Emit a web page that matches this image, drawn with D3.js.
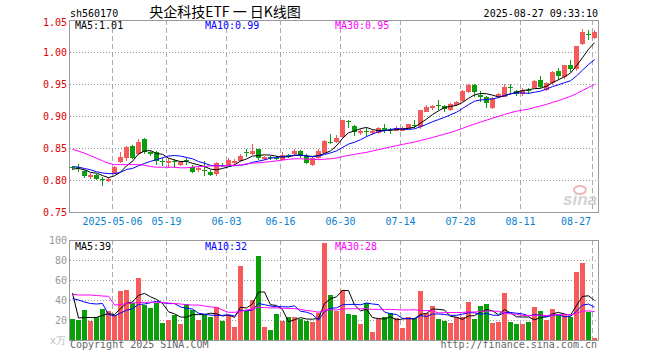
<!DOCTYPE html>
<html>
<head>
<meta charset="utf-8">
<script src="https://cdn.jsdelivr.net/npm/d3@7"></script>
<style>
  body { margin: 0; background: #fff; }
  text { font-family: "DejaVu Sans Mono", monospace; font-size: 10px; }
</style>
</head>
<body>
<svg id="my_svg"></svg>
<script>
const width = 660;
const height = 360;

// trading days 2025-04-22 .. 2025-08-27
const days = [
  '04-22','04-23','04-24','04-25','04-28','04-29','04-30',
  '05-06','05-07','05-08','05-09','05-12','05-13','05-14','05-15','05-16','05-19','05-20','05-21','05-22','05-23','05-26','05-27','05-28','05-29','05-30',
  '06-03','06-04','06-05','06-06','06-09','06-10','06-11','06-12','06-13','06-16','06-17','06-18','06-19','06-20','06-23','06-24','06-25','06-26','06-27','06-30',
  '07-01','07-02','07-03','07-04','07-07','07-08','07-09','07-10','07-11','07-14','07-15','07-16','07-17','07-18','07-21','07-22','07-23','07-24','07-25','07-28','07-29','07-30','07-31',
  '08-01','08-04','08-05','08-06','08-07','08-08','08-11','08-12','08-13','08-14','08-15','08-18','08-19','08-20','08-21','08-22','08-25','08-26','08-27'
];

const open = [
  0.820,0.820,0.814,0.805,0.808,0.802,0.799,0.810,0.828,0.834,
  0.853,0.841,0.864,0.844,0.843,0.830,0.827,0.829,0.824,0.832,
  0.821,0.815,0.816,0.813,0.809,0.824,0.823,0.826,0.829,0.843,
  0.841,0.848,0.833,0.836,0.835,0.832,0.839,0.840,0.846,0.838,
  0.824,0.835,0.842,0.860,0.860,0.867,0.892,0.885,0.874,0.877,
  0.873,0.873,0.882,0.879,0.877,0.877,0.880,0.886,0.883,0.907,
  0.912,0.917,0.915,0.909,0.917,0.923,0.938,0.948,0.933,0.930,
  0.913,0.929,0.930,0.945,0.939,0.935,0.941,0.944,0.957,0.941,
  0.951,0.970,0.961,0.980,0.973,1.013,1.028,1.022
];
const high = [
  0.822,0.825,0.816,0.811,0.810,0.804,0.804,0.822,0.843,0.853,
  0.854,0.864,0.865,0.846,0.845,0.835,0.835,0.833,0.830,0.835,
  0.823,0.820,0.830,0.815,0.828,0.826,0.835,0.833,0.840,0.848,
  0.856,0.849,0.838,0.838,0.837,0.843,0.840,0.849,0.847,0.840,
  0.837,0.848,0.862,0.872,0.871,0.894,0.893,0.886,0.879,0.881,
  0.878,0.883,0.887,0.882,0.885,0.884,0.888,0.893,0.910,0.917,
  0.917,0.925,0.917,0.920,0.924,0.940,0.950,0.950,0.939,0.932,
  0.930,0.936,0.950,0.950,0.941,0.943,0.944,0.957,0.962,0.953,
  0.970,0.975,0.980,0.987,1.010,1.036,1.034,1.034
];
const low = [
  0.816,0.813,0.803,0.802,0.800,0.790,0.797,0.809,0.827,0.830,
  0.833,0.839,0.840,0.838,0.823,0.822,0.818,0.818,0.822,0.823,
  0.811,0.813,0.807,0.806,0.807,0.821,0.822,0.824,0.828,0.836,
  0.839,0.832,0.831,0.832,0.831,0.831,0.834,0.838,0.834,0.825,
  0.822,0.833,0.840,0.856,0.858,0.866,0.882,0.868,0.871,0.867,
  0.871,0.872,0.873,0.872,0.876,0.876,0.879,0.881,0.880,0.906,
  0.909,0.909,0.906,0.908,0.916,0.922,0.936,0.930,0.922,0.912,
  0.911,0.928,0.929,0.936,0.932,0.932,0.935,0.943,0.943,0.939,
  0.949,0.957,0.958,0.969,0.971,1.011,1.018,1.021
];
const close = [
  0.818,0.819,0.806,0.808,0.802,0.800,0.802,0.821,0.836,0.852,
  0.835,0.860,0.843,0.840,0.829,0.829,0.830,0.828,0.828,0.831,
  0.813,0.818,0.815,0.808,0.826,0.823,0.831,0.830,0.838,0.842,
  0.846,0.835,0.836,0.835,0.834,0.839,0.838,0.846,0.838,0.827,
  0.835,0.846,0.861,0.859,0.866,0.893,0.890,0.875,0.877,0.876,
  0.876,0.882,0.876,0.878,0.882,0.881,0.887,0.885,0.909,0.914,
  0.916,0.916,0.911,0.918,0.922,0.939,0.948,0.938,0.929,0.920,
  0.928,0.934,0.946,0.944,0.934,0.941,0.940,0.955,0.946,0.951,
  0.969,0.962,0.979,0.974,1.009,1.032,1.027,1.031
];
// volume, 万手
const volume = [
  21,20,30,19,23,31,29,25,49,50,
  37,62,35,32,37,17,20,25,16,36,
  30,20,25,23,33,19,25,13,74,29,
  40,84,13,10,26,19,23,23,21,19,
  18,27,97,45,29,50,26,25,16,37,
  8,21,23,27,22,12,23,22,49,27,
  34,21,19,17,23,23,38,21,34,36,
  17,18,47,18,16,16,18,33,29,20,
  31,25,25,23,68,77,28,2
];

// moving-average values before a full window exists
const ma5Lead = [0.817,0.818,0.816,0.812];
const ma10Lead = [0.821,0.820,0.818,0.816,0.813,0.811,0.810,0.810,0.812];
const ma30Lead = [0.848,0.845,0.842,0.838,0.834,0.830,0.826,0.824,0.824,0.824,
                  0.824,0.824,0.823,0.821,0.820,0.820,0.820,0.820,0.819,0.819,
                  0.820,0.821,0.821,0.822,0.822,0.822,0.823,0.823,0.823];
const vma5Lead = [47,22,22.5,22.5];
const vma10Lead = [41.5,40,38,36.5,36,36.5,25.5,24,27];
const vma30Lead = [45.7,45,45,45,44.5,44,43.7,35,35.5,36.3,
                   37,37.5,37.7,37.7,37.7,37.5,37,36.5,36,35.3,
                   35,35,34,33,32.7,30,27.7,27.7,28.5];

const priceTicks = [1.05, 1.00, 0.95, 0.90, 0.85, 0.80, 0.75];
const volTicks = [100, 80, 60, 40, 20];
const tickDays = ['05-06','05-19','06-03','06-16','06-30','07-14','07-28','08-11','08-27'];
const tickLabels = ['2025-05-06','05-19','06-03','06-16','06-30','07-14','07-28','08-11','08-27'];
const maLabels = ['MA5:1.01','MA10:0.99','MA30:0.95'];
const vmaLabels = ['MA5:39','MA10:32','MA30:28'];
const maColors = ['#000', '#0000ff', '#ff00ff'];

const upColor = '#f65a5a';
const downColor = '#0a9e0a';

const svg = d3.select('#my_svg')
    .attr('width', width)
    .attr('height', height);

const x = d3.scaleBand()
    .domain(days)
    .range([69.5, 597.5])
    .paddingInner(1 / 6)
    .paddingOuter(1 / 12);
const cx = d => Math.floor(x(d)) + 2.5;

const y = d3.scaleLinear().domain([0.75, 1.05]).range([212, 20]);
const vy = d3.scaleLinear().domain([0, 100]).range([340, 240]);

function movingAvg(values, n, lead) {
    return values.map((v, i) => {
        if (i < n - 1) return lead[i];
        return d3.mean(values.slice(i - n + 1, i + 1));
    });
}

const rows = days.map((d, i) => ({
    day: d, o: open[i], h: high[i], l: low[i], c: close[i], v: volume[i]
}));

// ---------- grid ----------
const grid = svg.append('g').attr('id', 'grid_g');

grid.selectAll('.hgrid')
    .data(priceTicks.slice(1, -1))
    .enter().append('line')
    .attr('x1', 70).attr('x2', 598)
    .attr('y1', d => Math.round(y(d)) + 0.5)
    .attr('y2', d => Math.round(y(d)) + 0.5)
    .attr('stroke', '#999')
    .attr('stroke-dasharray', '1,2');

grid.selectAll('.vhgrid')
    .data(volTicks.slice(1))
    .enter().append('line')
    .attr('x1', 70).attr('x2', 598)
    .attr('y1', d => Math.round(vy(d)) + 0.5)
    .attr('y2', d => Math.round(vy(d)) + 0.5)
    .attr('stroke', '#999')
    .attr('stroke-dasharray', '1,2');

[[20, 212], [240, 340]].forEach(([t, b]) => {
    grid.append('g').selectAll('line')
        .data(tickDays)
        .enter().append('line')
        .attr('x1', d => Math.floor(x(d)) + 0.5)
        .attr('x2', d => Math.floor(x(d)) + 0.5)
        .attr('y1', t).attr('y2', b)
        .attr('stroke', '#aaa')
        .attr('stroke-dasharray', '5,3');
});

// watermark
const wm = svg.append('g').attr('id', 'watermark');
wm.append('ellipse')
    .attr('cx', 580).attr('cy', 190).attr('rx', 6).attr('ry', 4)
    .attr('fill', 'none').attr('stroke', '#f2b8b8').attr('stroke-width', 2);
wm.append('text')
    .attr('x', 597).attr('y', 205)
    .attr('text-anchor', 'end')
    .style('font-family', 'Liberation Sans, sans-serif')
    .style('font-size', '17px')
    .style('font-style', 'italic')
    .style('font-weight', 'bold')
    .attr('fill', '#d3d3d3')
    .text('sina');

// ---------- candles ----------
const candle = svg.append('g').attr('id', 'candles_g')
    .selectAll('g')
    .data(rows)
    .enter().append('g')
    .attr('fill', d => d.c >= d.o ? upColor : downColor)
    .attr('stroke', d => d.c >= d.o ? upColor : downColor);

candle.append('line')
    .attr('x1', d => cx(d.day)).attr('x2', d => cx(d.day))
    .attr('y1', d => Math.round(y(d.h)))
    .attr('y2', d => Math.round(y(d.l)));

candle.append('rect')
    .attr('x', d => Math.floor(x(d.day)))
    .attr('width', 5)
    .attr('y', d => Math.round(y(Math.max(d.o, d.c))))
    .attr('height', d => Math.max(1, Math.round(y(Math.min(d.o, d.c))) - Math.round(y(Math.max(d.o, d.c)))))
    .attr('stroke', 'none');

// ---------- volume bars ----------
svg.append('g').attr('id', 'vol_g')
    .selectAll('rect')
    .data(rows)
    .enter().append('rect')
    .attr('x', d => Math.floor(x(d.day)))
    .attr('width', 5)
    .attr('y', d => Math.round(vy(d.v)))
    .attr('height', d => 340 - Math.round(vy(d.v)))
    .attr('fill', d => d.c >= d.o ? upColor : downColor);

// ---------- moving averages ----------
const maSeries = [
    movingAvg(close, 5, ma5Lead),
    movingAvg(close, 10, ma10Lead),
    movingAvg(close, 30, ma30Lead)
];
const vmaSeries = [
    movingAvg(volume, 5, vma5Lead),
    movingAvg(volume, 10, vma10Lead),
    movingAvg(volume, 30, vma30Lead)
];

const priceLine = d3.line().x((v, i) => cx(days[i])).y(v => y(v));
const volLine = d3.line().x((v, i) => cx(days[i])).y(v => vy(v));

svg.append('g').selectAll('path')
    .data(maSeries)
    .enter().append('path')
    .attr('d', priceLine)
    .attr('fill', 'none')
    .attr('stroke', (d, i) => maColors[i])
    .attr('stroke-width', 1);

svg.append('g').selectAll('path')
    .data(vmaSeries)
    .enter().append('path')
    .attr('d', volLine)
    .attr('fill', 'none')
    .attr('stroke', (d, i) => maColors[i])
    .attr('stroke-width', 1);

// ---------- frames ----------
svg.append('rect')
    .attr('x', 69.5).attr('y', 20.5)
    .attr('width', 529).attr('height', 192)
    .attr('fill', 'none').attr('stroke', '#999');
svg.append('rect')
    .attr('x', 69.5).attr('y', 240.5)
    .attr('width', 529).attr('height', 100)
    .attr('fill', 'none').attr('stroke', '#999');

// ---------- axis labels ----------
// top price label is nudged down a little, as in the original
svg.append('g').selectAll('text')
    .data(priceTicks)
    .enter().append('text')
    .attr('x', 67)
    .attr('y', (d, i) => y(d) + (i === 0 ? 6 : 4))
    .attr('text-anchor', 'end')
    .attr('fill', '#e00000')
    .text(d => d.toFixed(2));

svg.append('g').selectAll('text')
    .data(volTicks)
    .enter().append('text')
    .attr('x', 67)
    .attr('y', d => vy(d) + 4)
    .attr('text-anchor', 'end')
    .attr('fill', '#999')
    .text(d => d);

svg.append('text')
    .attr('x', 66).attr('y', 344)
    .attr('text-anchor', 'end')
    .attr('fill', '#bbb')
    .text('x万');

svg.append('g').selectAll('text')
    .data(tickDays)
    .enter().append('text')
    .attr('x', (d, i) => {
        const w = tickLabels[i].length * 6.02;
        return Math.min(Math.floor(x(d)) + 0.5, 591 - w / 2);
    })
    .attr('y', 225)
    .attr('text-anchor', 'middle')
    .attr('fill', '#0a7fd0')
    .text((d, i) => tickLabels[i]);

// ---------- MA legends ----------
const legX = [75, 205, 335];
svg.append('g').selectAll('text')
    .data(maLabels)
    .enter().append('text')
    .attr('x', (d, i) => legX[i])
    .attr('y', 29)
    .attr('fill', (d, i) => maColors[i])
    .text(d => d);

svg.append('g').selectAll('text')
    .data(vmaLabels)
    .enter().append('text')
    .attr('x', (d, i) => legX[i])
    .attr('y', 250)
    .attr('fill', (d, i) => maColors[i])
    .text(d => d);

// ---------- header & footer ----------
svg.append('text')
    .attr('x', 70).attr('y', 17)
    .attr('fill', '#000')
    .text('sh560170');

svg.append('text')
    .attr('x', 225).attr('y', 17)
    .attr('text-anchor', 'middle')
    .style('font-family', '"Noto Sans CJK SC", sans-serif')
    .style('font-size', '14px')
    .attr('fill', '#000')
    .text('央企科技ETF 一 日K线图');

svg.append('text')
    .attr('x', 598).attr('y', 17)
    .attr('text-anchor', 'end')
    .attr('fill', '#000')
    .text('2025-08-27 09:33:10');

svg.append('text')
    .attr('x', 70).attr('y', 348)
    .attr('fill', '#666')
    .text('Copyright 2025 SINA.COM');

svg.append('text')
    .attr('x', 597).attr('y', 348)
    .attr('text-anchor', 'end')
    .attr('fill', '#666')
    .text('http://finance.sina.com.cn');
</script>
</body>
</html>
